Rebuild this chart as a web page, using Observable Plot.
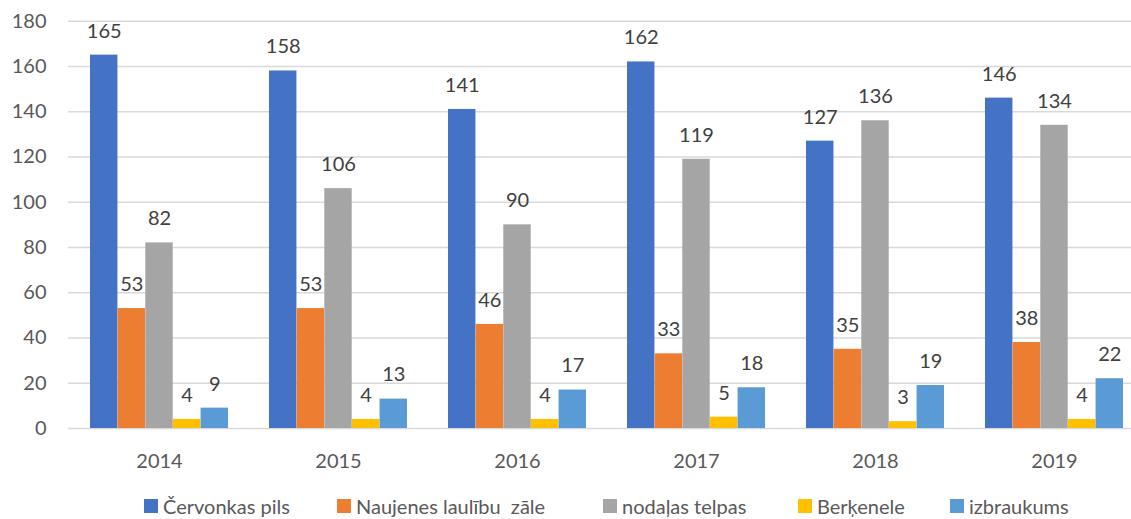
<!DOCTYPE html>
<html>
<head>
<meta charset="utf-8">
<script src="https://cdn.jsdelivr.net/npm/d3@7"></script>
<script src="https://cdn.jsdelivr.net/npm/@observablehq/plot@0.6"></script>
<style>
  html, body { margin: 0; padding: 0; background: #fff; overflow: hidden; }
  #wrap { width: 1131px; height: 519px; overflow: hidden; position: relative; }
  #chart { height: 480px; overflow: hidden; }
  #chart svg { max-width: none !important; display: block; }
  #legend { position: relative; height: 39px; font-family: Lato, "Open Sans", sans-serif; font-size: 20px; color: #595959; }
  .item { position: absolute; top: 14px; height: 24px; line-height: 24px; display: flex; align-items: center; white-space: pre; }
  .sw { width: 14px; height: 14px; margin-right: 5px; }
</style>
</head>
<body>
<div id="wrap"><div id="chart"></div><div id="legend"></div></div>
<script>
const years = ["2014", "2015", "2016", "2017", "2018", "2019"];
const series = ["Červonkas pils", "Naujenes laulību  zāle", "nodaļas telpas", "Berķenele", "izbraukums"];
const cervonkas = [165, 158, 141, 162, 127, 146];
const naujenes = [53, 53, 46, 33, 35, 38];
const nodalas = [82, 106, 90, 119, 136, 134];
const berkenele = [4, 4, 4, 5, 3, 4];
const izbraukums = [9, 13, 17, 18, 19, 22];
const colors = ["#4472C4", "#ED7D31", "#A5A5A5", "#FFC000", "#5B9BD5"];
const yTicks = [0, 20, 40, 60, 80, 100, 120, 140, 160, 180];

const seriesValues = [cervonkas, naujenes, nodalas, berkenele, izbraukums];

const W = 1145, ML = 68, MR = 0, PAD = 0.23;
const step = (W - ML - MR) / years.length;
const slot = step * (1 - PAD) / series.length;

const barMarks = [];
const textMarks = [];
series.forEach((s, j) => {
  const rows = years.map((y, i) => ({year: y, series: s, value: seriesValues[j][i]}));
  barMarks.push(Plot.barY(rows, {
    x: "year", y: "value", fill: colors[j],
    insetLeft: j * slot, insetRight: (series.length - 1 - j) * slot
  }));
  textMarks.push(Plot.text(rows, {
    x: "year", y: "value", text: d => String(d.value),
    dx: (j - (series.length - 1) / 2) * slot, dy: -24,
    fill: "#404040", fontSize: 20
  }));
});

const chart = Plot.plot({
  width: W,
  height: 480,
  marginLeft: ML,
  marginRight: MR,
  marginTop: 20.7,
  marginBottom: 52,
  style: {fontFamily: "Lato, 'Open Sans', sans-serif", fontSize: "20px", color: "#595959", background: "white", maxWidth: "none"},
  x: {domain: years, paddingInner: PAD, paddingOuter: PAD / 2, label: null},
  y: {domain: [0, 180], label: null},
  marks: [
    Plot.ruleY(yTicks, {stroke: "#D9D9D9", strokeWidth: 1.5}),
    Plot.axisY({ticks: yTicks, tickSize: 0, tickPadding: 22, label: null, fill: "#595959"}),
    Plot.axisX({tickSize: 0, tickPadding: 25, label: null, fill: "#595959"}),
    ...barMarks,
    ...textMarks
  ]
});
document.getElementById("chart").appendChild(chart);

const legendLefts = [144, 337, 603, 798, 950];
const legend = document.getElementById("legend");
series.forEach((s, i) => {
  const it = document.createElement("div");
  it.className = "item";
  it.style.left = legendLefts[i] + "px";
  const sw = document.createElement("span");
  sw.className = "sw";
  sw.style.background = colors[i];
  const t = document.createElement("span");
  t.textContent = s;
  it.appendChild(sw);
  it.appendChild(t);
  legend.appendChild(it);
});
</script>
</body>
</html>
